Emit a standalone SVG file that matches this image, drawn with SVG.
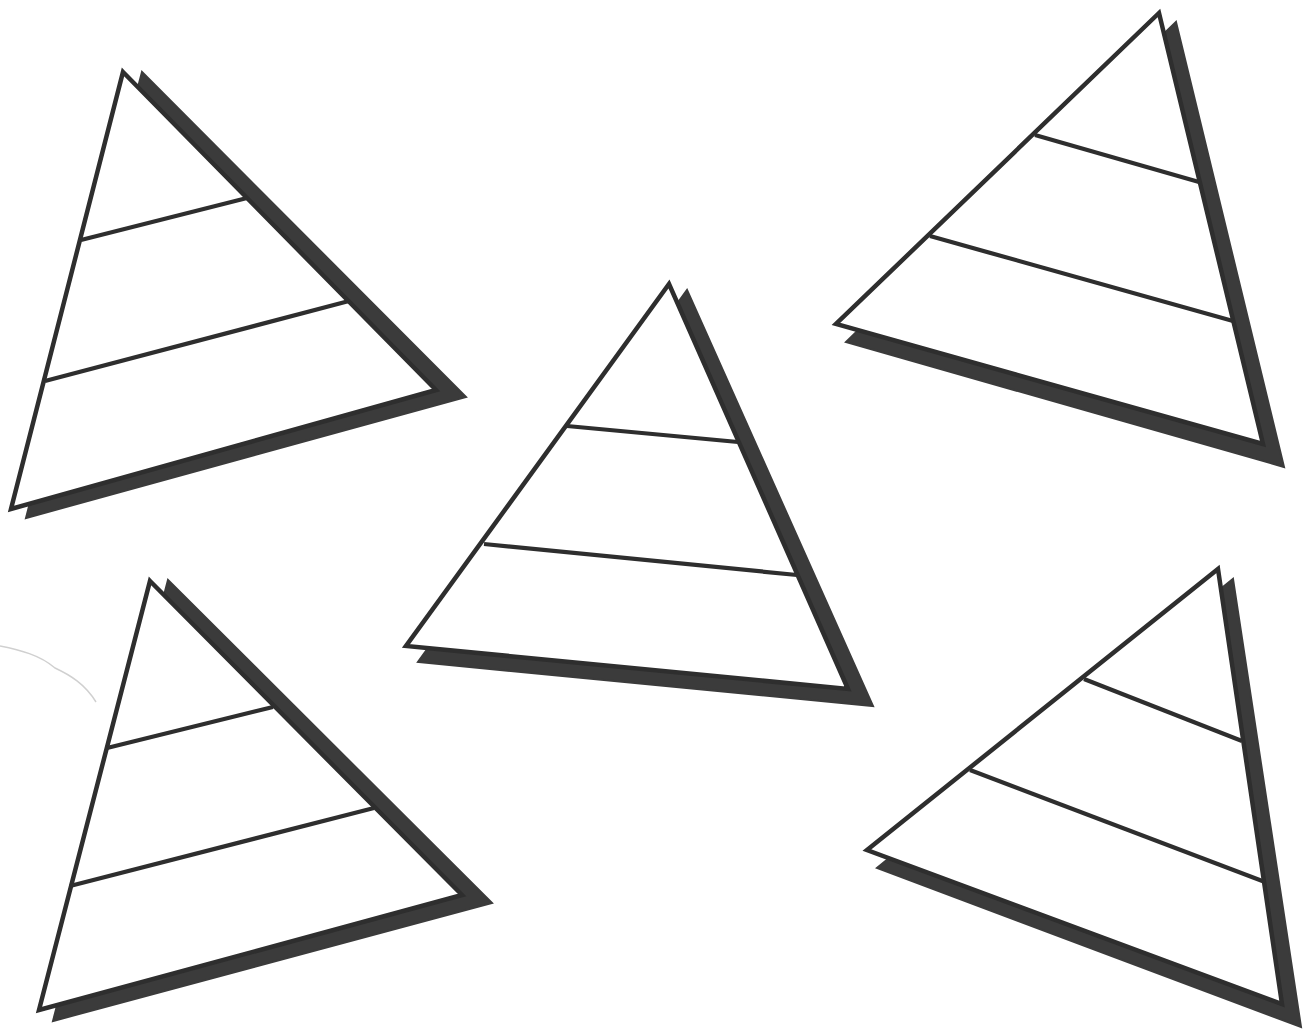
<svg xmlns="http://www.w3.org/2000/svg" width="1303" height="1031" viewBox="0 0 1303 1031">
<style>
.sh{fill:#3b3b3b;stroke:#3b3b3b;stroke-width:2;stroke-linejoin:miter}
.tri{fill:#fff;stroke:#2e2e2e;stroke-width:4.5;stroke-linejoin:miter;stroke-miterlimit:10}
.div{stroke:#2e2e2e;stroke-width:4.2;fill:none}
</style>
<rect width="1303" height="1031" fill="#fff"/>
<path d="M0,646 C20,650 40,655 55,668 C70,675 85,684 96,702" fill="none" stroke="#d0d0d0" stroke-width="1.5"/>
<g id="pyramid1">
<polygon class="sh" points="142,72 466,397 26,518"/>
<polygon class="tri" points="123,72 436,390 11,509"/>
<line class="div" x1="81" y1="240" x2="247" y2="198"/>
<line class="div" x1="45" y1="381" x2="349" y2="301"/>
</g>
<g id="pyramid2">
<polygon class="sh" points="687,290 873,706 418,662"/>
<polygon class="tri" points="669,284 848,689 406,646"/>
<line class="div" x1="567" y1="426" x2="738" y2="442"/>
<line class="div" x1="484" y1="544" x2="797" y2="575"/>
</g>
<g id="pyramid3">
<polygon class="sh" points="1176,22 1284,467 846,342"/>
<polygon class="tri" points="1159,13 1263,444 836,324"/>
<line class="div" x1="1035" y1="135" x2="1199" y2="182"/>
<line class="div" x1="930" y1="236" x2="1233" y2="321"/>
</g>
<g id="pyramid4">
<polygon class="sh" points="168,580 492,903 53,1021"/>
<polygon class="tri" points="150,581 462,895 39,1010"/>
<line class="div" x1="107" y1="748" x2="273" y2="707"/>
<line class="div" x1="70" y1="886" x2="374" y2="808"/>
</g>
<g id="pyramid5">
<polygon class="sh" points="1233,579 1301,1027 877,868"/>
<polygon class="tri" points="1218,569 1282,1004 867,850"/>
<line class="div" x1="1084" y1="679" x2="1242" y2="741"/>
<line class="div" x1="970" y1="770" x2="1265" y2="882"/>
</g>
</svg>
